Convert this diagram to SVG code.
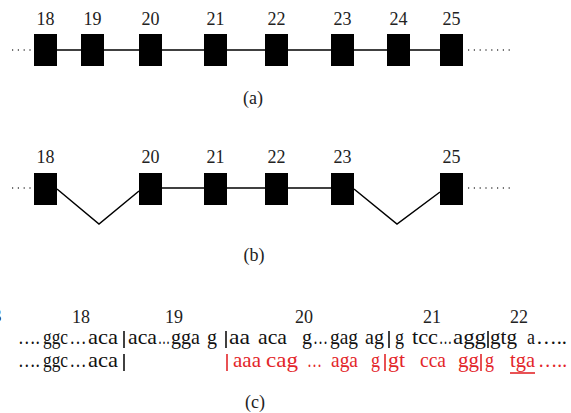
<svg xmlns="http://www.w3.org/2000/svg" width="571" height="413" viewBox="0 0 571 413">
<style>
text{font-family:'Liberation Serif','Times New Roman',serif}
.lbl{font-size:18px;fill:#222;text-anchor:middle}
.cap{font-size:18px;fill:#222;text-anchor:middle}
.sq{font-size:21px;fill:#111}
.rd{fill:#e3262a}
.exon{fill:#000}
.intron{stroke:#000;stroke-width:1.5;fill:none}
.dots{stroke:#444;stroke-width:1.3;stroke-dasharray:1.2 4.6;fill:none}
.bar{stroke:#111;stroke-width:1.6}
.rbar{stroke:#e3262a;stroke-width:1.6}
</style>

<!-- Panel (a) -->
<g id="connectors-a">
<line class="dots" x1="12" y1="50" x2="33" y2="50"/>
<line class="intron" x1="57" y1="50" x2="440" y2="50"/>
<line class="dots" x1="468" y1="50" x2="510" y2="50"/>
</g>
<g id="a-exon18"><rect class="exon" x="34" y="34" width="23" height="32"/><text class="lbl" x="45.5" y="25">18</text></g>
<g id="a-exon19"><rect class="exon" x="81" y="34" width="23" height="32"/><text class="lbl" x="92.5" y="25">19</text></g>
<g id="a-exon20"><rect class="exon" x="139" y="34" width="23" height="32"/><text class="lbl" x="150.5" y="25">20</text></g>
<g id="a-exon21"><rect class="exon" x="204" y="34" width="23" height="32"/><text class="lbl" x="215.5" y="25">21</text></g>
<g id="a-exon22"><rect class="exon" x="265" y="34" width="23" height="32"/><text class="lbl" x="276.5" y="25">22</text></g>
<g id="a-exon23"><rect class="exon" x="331" y="34" width="23" height="32"/><text class="lbl" x="342.5" y="25">23</text></g>
<g id="a-exon24"><rect class="exon" x="387" y="34" width="23" height="32"/><text class="lbl" x="398.5" y="25">24</text></g>
<g id="a-exon25"><rect class="exon" x="440" y="34" width="23" height="32"/><text class="lbl" x="451.5" y="25">25</text></g>
<text class="cap" x="253" y="104">(a)</text>

<!-- Panel (b) -->
<g id="connectors-b">
<line class="dots" x1="12" y1="188" x2="33" y2="188"/>
<polyline class="intron" points="57,189 99,224 139,191"/>
<line class="intron" x1="162" y1="188" x2="331" y2="188"/>
<polyline class="intron" points="354,189 397,224 440,192"/>
<line class="dots" x1="468" y1="188" x2="510" y2="188"/>
</g>
<g id="b-exon18"><rect class="exon" x="34" y="173" width="23" height="32"/><text class="lbl" x="45.5" y="163">18</text></g>
<g id="b-exon20"><rect class="exon" x="139" y="173" width="23" height="32"/><text class="lbl" x="150.5" y="163">20</text></g>
<g id="b-exon21"><rect class="exon" x="204" y="173" width="23" height="32"/><text class="lbl" x="215.5" y="163">21</text></g>
<g id="b-exon22"><rect class="exon" x="265" y="173" width="23" height="32"/><text class="lbl" x="276.5" y="163">22</text></g>
<g id="b-exon23"><rect class="exon" x="331" y="173" width="23" height="32"/><text class="lbl" x="342.5" y="163">23</text></g>
<g id="b-exon25"><rect class="exon" x="440" y="173" width="23" height="32"/><text class="lbl" x="451.5" y="163">25</text></g>
<text class="cap" x="254" y="261">(b)</text>

<!-- Panel (c) -->
<g id="c-labels">
<text class="lbl" x="-3" y="322">3</text>
<text class="lbl" x="81" y="323">18</text>
<text class="lbl" x="174" y="323">19</text>
<text class="lbl" x="304" y="323">20</text>
<text class="lbl" x="432" y="323">21</text>
<text class="lbl" x="519" y="323">22</text>
</g>
<g id="c-row1" class="sq">
<text x="18" y="344" textLength="22" lengthAdjust="spacingAndGlyphs">….</text>
<text x="43" y="344" textLength="25" lengthAdjust="spacingAndGlyphs">ggc</text>
<text x="69.5" y="344" textLength="17" lengthAdjust="spacingAndGlyphs">…</text>
<text x="88" y="344" textLength="30" lengthAdjust="spacingAndGlyphs">aca</text>
<text x="128" y="344" textLength="29" lengthAdjust="spacingAndGlyphs">aca</text>
<text x="158" y="344" textLength="12" lengthAdjust="spacingAndGlyphs">…</text>
<text x="171" y="344" textLength="29" lengthAdjust="spacingAndGlyphs">gga</text>
<text x="207" y="344" textLength="10" lengthAdjust="spacingAndGlyphs">g</text>
<text x="229" y="344" textLength="21" lengthAdjust="spacingAndGlyphs">aa</text>
<text x="258" y="344" textLength="29" lengthAdjust="spacingAndGlyphs">aca</text>
<text x="302" y="344" textLength="10" lengthAdjust="spacingAndGlyphs">g</text>
<text x="313" y="344" textLength="15" lengthAdjust="spacingAndGlyphs">…</text>
<text x="330" y="344" textLength="28" lengthAdjust="spacingAndGlyphs">gag</text>
<text x="365" y="344" textLength="19" lengthAdjust="spacingAndGlyphs">ag</text>
<text x="395" y="344" textLength="9" lengthAdjust="spacingAndGlyphs">g</text>
<text x="412" y="344" textLength="26" lengthAdjust="spacingAndGlyphs">tcc</text>
<text x="439" y="344" textLength="13" lengthAdjust="spacingAndGlyphs">…</text>
<text x="453" y="344" textLength="33" lengthAdjust="spacingAndGlyphs">agg</text>
<text x="490" y="344" textLength="27" lengthAdjust="spacingAndGlyphs">gtg</text>
<text x="527" y="344" textLength="8" lengthAdjust="spacingAndGlyphs">a</text>
<text x="536" y="344" textLength="31" lengthAdjust="spacingAndGlyphs">…..</text>
<line class="bar" x1="124" y1="331" x2="124" y2="348"/>
<line class="bar" x1="226" y1="331" x2="226" y2="348"/>
<line class="bar" x1="389" y1="331" x2="389" y2="348"/>
<line class="bar" x1="488" y1="331" x2="488" y2="348"/>
</g>
<g id="c-row2" class="sq">
<text x="18" y="367" textLength="22" lengthAdjust="spacingAndGlyphs">….</text>
<text x="43" y="367" textLength="25" lengthAdjust="spacingAndGlyphs">ggc</text>
<text x="69.5" y="367" textLength="17" lengthAdjust="spacingAndGlyphs">…</text>
<text x="88" y="367" textLength="30" lengthAdjust="spacingAndGlyphs">aca</text>
<line class="bar" x1="124" y1="354" x2="124" y2="371"/>
<line class="rbar" x1="227" y1="354" x2="227" y2="371"/>
<text class="rd" x="233" y="367" textLength="28" lengthAdjust="spacingAndGlyphs">aaa</text>
<text class="rd" x="266" y="367" textLength="32" lengthAdjust="spacingAndGlyphs">cag</text>
<text class="rd" x="307" y="367" textLength="15" lengthAdjust="spacingAndGlyphs">…</text>
<text class="rd" x="331" y="367" textLength="27" lengthAdjust="spacingAndGlyphs">aga</text>
<text class="rd" x="371" y="367" textLength="9" lengthAdjust="spacingAndGlyphs">g</text>
<line class="rbar" x1="385" y1="354" x2="385" y2="371"/>
<text class="rd" x="388" y="367" textLength="17" lengthAdjust="spacingAndGlyphs">gt</text>
<text class="rd" x="420" y="367" textLength="26" lengthAdjust="spacingAndGlyphs">cca</text>
<text class="rd" x="458" y="367" textLength="21" lengthAdjust="spacingAndGlyphs">gg</text>
<line class="rbar" x1="481" y1="354" x2="481" y2="371"/>
<text class="rd" x="485" y="367" textLength="9" lengthAdjust="spacingAndGlyphs">g</text>
<text class="rd" x="510" y="367" textLength="25" lengthAdjust="spacingAndGlyphs">tga</text>
<line class="rbar" x1="510" y1="373" x2="535" y2="373"/>
<text class="rd" x="538" y="367" textLength="29" lengthAdjust="spacingAndGlyphs">…..</text>
</g>
<text class="cap" x="255" y="408">(c)</text>
</svg>
